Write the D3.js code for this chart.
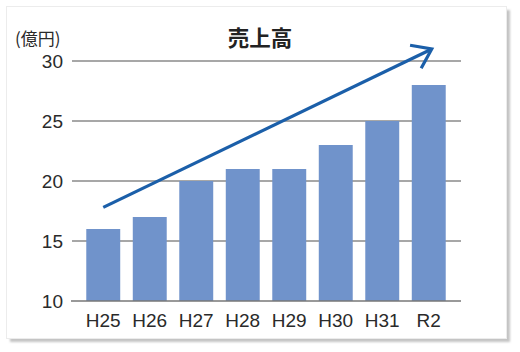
<!DOCTYPE html>
<html>
<head>
<meta charset="utf-8">
<script src="https://cdn.jsdelivr.net/npm/d3@7"></script>
<style>
body { margin:0; background:#fff; }
text { font-family: "Liberation Sans", Arial, sans-serif; }
</style>
</head>
<body>
<svg id="drawing_region"></svg>
<script>
// data
const years = ["H25","H26","H27","H28","H29","H30","H31","R2"];
const sales = [16, 17, 20, 21, 21, 23, 25, 28];
const yticks = [10, 15, 20, 25, 30];
// trend arrow, in data units (year + offset px, value)
const arrowFrom = {year: "H25", dx: 0, value: 17.8};
const arrowTo = {year: "R2", dx: 3, value: 31};

const width = 520, height = 352;
const svg = d3.select('#drawing_region')
  .attr('width', width)
  .attr('height', height);

const defs = svg.append('defs');
const blur = defs.append('filter').attr('id', 'shadow')
  .attr('x', '-5%').attr('y', '-5%').attr('width', '115%').attr('height', '115%');
blur.append('feGaussianBlur').attr('stdDeviation', 1.2);

// card with shadow
svg.append('rect')
  .attr('x', 10).attr('y', 10)
  .attr('width', 500).attr('height', 332)
  .attr('fill', '#c4c4c4')
  .attr('filter', 'url(#shadow)');
svg.append('rect')
  .attr('x', 6.5).attr('y', 6.5)
  .attr('width', 500).attr('height', 332)
  .attr('fill', '#fff')
  .attr('stroke', '#ececec');

const xscale = d3.scaleBand()
  .domain(years)
  .range([80, 452])
  .paddingInner(0.27)
  .paddingOuter(0.135);
const yscale = d3.scaleLinear()
  .domain([10, 30])
  .range([301, 61]);

// gridlines
svg.append('g').selectAll('line')
  .data(yticks.filter(d => d != 10))
  .enter().append('line')
  .attr('x1', 72).attr('x2', 461)
  .attr('y1', d => yscale(d)).attr('y2', d => yscale(d))
  .attr('stroke', '#8a8a8a')
  .attr('stroke-width', 1.3);

// bars
svg.append('g').selectAll('rect')
  .data(sales)
  .enter().append('rect')
  .attr('x', (d, i) => xscale(years[i]))
  .attr('y', d => yscale(d))
  .attr('width', xscale.bandwidth())
  .attr('height', d => yscale(10) - yscale(d))
  .attr('fill', '#7093cb');

// baseline
svg.append('line')
  .attr('x1', 71).attr('x2', 461)
  .attr('y1', yscale(10)).attr('y2', yscale(10))
  .attr('stroke', '#777')
  .attr('stroke-width', 1.6);

// y labels
svg.append('g').selectAll('text')
  .data(yticks)
  .enter().append('text')
  .attr('x', 63)
  .attr('y', d => yscale(d) + 7)
  .attr('text-anchor', 'end')
  .attr('font-size', 19)
  .attr('fill', '#2a2a2a')
  .text(d => d);

// x labels
svg.append('g').selectAll('text')
  .data(years)
  .enter().append('text')
  .attr('x', d => xscale(d) + xscale.bandwidth() / 2)
  .attr('y', 327)
  .attr('text-anchor', 'middle')
  .attr('font-size', 19)
  .attr('fill', '#2a2a2a')
  .text(d => d);

// unit and title
svg.append('text')
  .attr('x', 15).attr('y', 45)
  .attr('font-size', 17)
  .attr('fill', '#2a2a2a')
  .style('font-family', '"Noto Sans CJK JP", sans-serif')
  .text('(億円)');
svg.append('text')
  .attr('x', 260).attr('y', 46)
  .attr('text-anchor', 'middle')
  .attr('font-size', 21.5)
  .attr('font-weight', 'bold')
  .attr('fill', '#222')
  .style('font-family', '"Noto Sans CJK JP", sans-serif')
  .text('売上高');

// trend arrow
const ax0 = xscale(arrowFrom.year) + xscale.bandwidth() / 2 + arrowFrom.dx;
const ay0 = yscale(arrowFrom.value);
const ax1 = xscale(arrowTo.year) + xscale.bandwidth() / 2 + arrowTo.dx;
const ay1 = yscale(arrowTo.value);
const ang = Math.atan2(ay1 - ay0, ax1 - ax0);
const headLen = 22, headAng = 0.62;
const arrow = svg.append('g')
  .attr('stroke', '#1b5fa9')
  .attr('stroke-width', 3.2)
  .attr('fill', 'none')
  .attr('stroke-linecap', 'butt');
arrow.append('line')
  .attr('x1', ax0).attr('y1', ay0)
  .attr('x2', ax1 - Math.cos(ang)).attr('y2', ay1 - Math.sin(ang));
arrow.append('path')
  .attr('stroke-linejoin', 'miter')
  .attr('d', d3.line()([
    [ax1 - headLen * Math.cos(ang - headAng), ay1 - headLen * Math.sin(ang - headAng)],
    [ax1, ay1],
    [ax1 - headLen * Math.cos(ang + headAng), ay1 - headLen * Math.sin(ang + headAng)]
  ]));
</script>
</body>
</html>
